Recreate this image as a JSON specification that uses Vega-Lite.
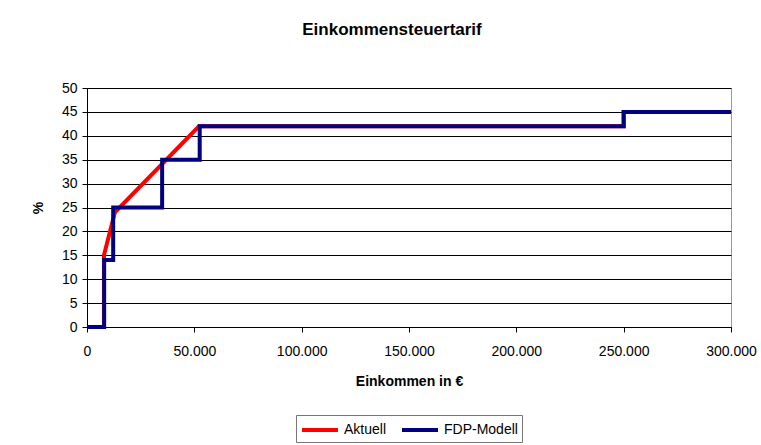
{
  "$schema": "https://vega.github.io/schema/vega-lite/v6.json",
  "autosize": "none",
  "width": 644,
  "height": 239,
  "padding": {"left": 87, "top": 88, "right": 30, "bottom": 118},
  "background": "white",
  "config": {
    "font": "Liberation Sans",
    "view": {"stroke": "#999999", "strokeWidth": 1}
  },
  "title": {
    "text": "Einkommensteuertarif",
    "fontSize": 17,
    "fontWeight": "bold",
    "font": "Liberation Sans",
    "color": "#000000",
    "anchor": "middle",
    "frame": "group",
    "dx": -17,
    "offset": 42
  },
  "data": {
    "values": [
      {"series": "Aktuell", "i": 0, "einkommen": 0, "satz": 0},
      {"series": "Aktuell", "i": 1, "einkommen": 7900, "satz": 0},
      {"series": "Aktuell", "i": 2, "einkommen": 7900, "satz": 15},
      {"series": "Aktuell", "i": 3, "einkommen": 13000, "satz": 24},
      {"series": "Aktuell", "i": 4, "einkommen": 52151, "satz": 42},
      {"series": "Aktuell", "i": 5, "einkommen": 250000, "satz": 42},
      {"series": "Aktuell", "i": 6, "einkommen": 250000, "satz": 45},
      {"series": "Aktuell", "i": 7, "einkommen": 300000, "satz": 45},
      {"series": "FDP-Modell", "i": 0, "einkommen": 0, "satz": 0},
      {"series": "FDP-Modell", "i": 1, "einkommen": 8000, "satz": 0},
      {"series": "FDP-Modell", "i": 2, "einkommen": 8000, "satz": 14},
      {"series": "FDP-Modell", "i": 3, "einkommen": 12200, "satz": 14},
      {"series": "FDP-Modell", "i": 4, "einkommen": 12200, "satz": 25},
      {"series": "FDP-Modell", "i": 5, "einkommen": 35000, "satz": 25},
      {"series": "FDP-Modell", "i": 6, "einkommen": 35000, "satz": 35},
      {"series": "FDP-Modell", "i": 7, "einkommen": 52500, "satz": 35},
      {"series": "FDP-Modell", "i": 8, "einkommen": 52500, "satz": 42},
      {"series": "FDP-Modell", "i": 9, "einkommen": 250000, "satz": 42},
      {"series": "FDP-Modell", "i": 10, "einkommen": 250000, "satz": 45},
      {"series": "FDP-Modell", "i": 11, "einkommen": 300000, "satz": 45}
    ]
  },
  "mark": {"type": "line", "strokeWidth": 4, "strokeJoin": "miter", "strokeCap": "butt", "clip": false},
  "encoding": {
    "x": {
      "field": "einkommen",
      "type": "quantitative",
      "scale": {"domain": [0, 300000], "nice": false, "zero": true},
      "axis": {
        "title": "Einkommen in €",
        "titleFont": "Liberation Sans",
        "titleFontSize": 14,
        "titleFontWeight": "bold",
        "titleColor": "#000000",
        "titlePadding": 16,
        "values": [0, 50000, 100000, 150000, 200000, 250000, 300000],
        "format": ",.0f",
        "labelExpr": "replace(datum.label, /,/g, '.')",
        "labelFont": "Liberation Sans",
        "labelFontSize": 14,
        "labelColor": "#000000",
        "labelPadding": 12,
        "labelFlush": false,
        "labelOverlap": false,
        "grid": false,
        "domainColor": "#000000",
        "tickColor": "#000000",
        "tickSize": 5
      }
    },
    "y": {
      "field": "satz",
      "type": "quantitative",
      "scale": {"domain": [0, 50], "nice": false},
      "axis": {
        "title": "%",
        "titleFont": "Liberation Sans",
        "titleFontSize": 14,
        "titleFontWeight": "bold",
        "titleColor": "#000000",
        "titlePadding": 16,
        "values": [0, 5, 10, 15, 20, 25, 30, 35, 40, 45, 50],
        "labelFont": "Liberation Sans",
        "labelFontSize": 14,
        "labelColor": "#000000",
        "labelPadding": 5,
        "labelFlush": false,
        "grid": true,
        "gridColor": "#000000",
        "gridWidth": 1,
        "domainColor": "#000000",
        "tickColor": "#000000",
        "tickSize": 5
      }
    },
    "color": {
      "field": "series",
      "type": "nominal",
      "scale": {"domain": ["Aktuell", "FDP-Modell"], "range": ["#ff0000", "#000080"]},
      "legend": {
        "title": null,
        "orient": "none",
        "legendX": 209,
        "legendY": 327,
        "direction": "horizontal",
        "symbolType": "M-1,0H3",
        "symbolStrokeWidth": 4,
        "symbolSize": 324,
        "labelFont": "Liberation Sans",
        "labelFontSize": 14,
        "labelColor": "#000000",
        "labelOffset": 22,
        "columnPadding": 7,
        "strokeColor": "#777777",
        "fillColor": "white",
        "padding": 4
      }
    },
    "detail": {"field": "series"},
    "order": {"field": "i", "type": "quantitative"}
  }
}
